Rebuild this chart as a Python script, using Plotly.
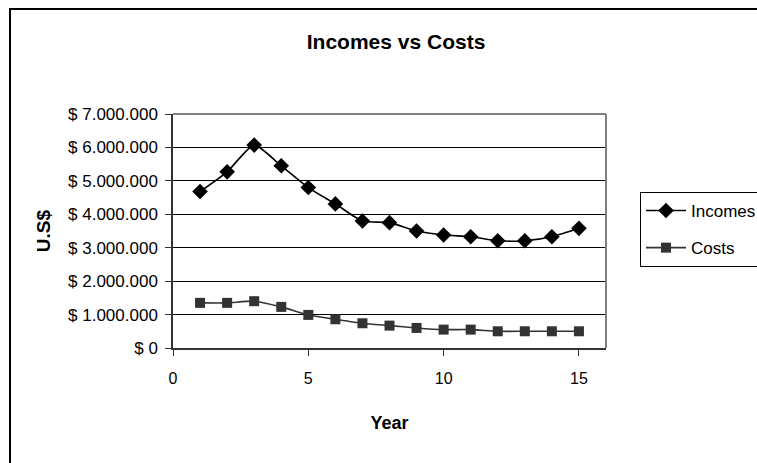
import plotly.graph_objects as go

# Yearly series (U.S$)
years = list(range(1, 16))
incomes = [4680000, 5270000, 6070000, 5450000, 4800000, 4310000, 3800000, 3750000,
           3500000, 3380000, 3330000, 3210000, 3210000, 3330000, 3580000]
costs = [1350000, 1350000, 1400000, 1230000, 990000, 860000, 740000, 670000,
         600000, 550000, 550000, 500000, 500000, 500000, 500000]

y_tick_vals = [0, 1000000, 2000000, 3000000, 4000000, 5000000, 6000000, 7000000]
y_tick_text = ["$ 0", "$ 1.000.000", "$ 2.000.000", "$ 3.000.000", "$ 4.000.000",
               "$ 5.000.000", "$ 6.000.000", "$ 7.000.000"]
x_tick_vals = [0, 5, 10, 15]

FONT = "Liberation Sans, Arial, sans-serif"

fig = go.Figure()
fig.add_trace(go.Scatter(
    x=years, y=incomes, name="Incomes", mode="lines+markers", legendgroup="inc",
    line=dict(color="#000000", width=1.6, shape="spline", smoothing=0.6),
    marker=dict(symbol="diamond", size=12, color="#000000"),
))
fig.add_trace(go.Scatter(
    x=years, y=costs, name="Costs", mode="lines+markers", legendgroup="cost",
    line=dict(color="#333333", width=1.6, shape="spline", smoothing=0.6),
    marker=dict(symbol="square", size=10, color="#333333"),
))

fig.update_layout(
    width=757, height=463,
    margin=dict(l=173, r=151, t=114, b=115),
    paper_bgcolor="white", plot_bgcolor="white",
    font=dict(family=FONT, color="#000000", size=16),
    title=dict(text="<b>Incomes vs Costs</b>", x=390 / 757, xanchor="center",
               y=1 - 42 / 463, yanchor="middle", xref="paper", yref="container",
               font=dict(size=21, family=FONT)),
    showlegend=True,
    legend=dict(
        x=640 / 757, y=1 - 192 / 463, xref="container", yref="container",
        xanchor="left", yanchor="top",
        bordercolor="#000000", borderwidth=1, bgcolor="white",
        font=dict(size=17, family=FONT), itemwidth=40, tracegroupgap=12,
    ),
    xaxis=dict(
        range=[0, 16], tickvals=x_tick_vals, showgrid=False, zeroline=False,
        showline=True, linecolor="#333333", linewidth=1.5,
        ticks="outside", ticklen=6, tickcolor="#333333", ticklabelstandoff=9,
        tickfont=dict(size=16), title=dict(text="<b>Year</b>", font=dict(size=18), standoff=30),
    ),
    yaxis=dict(
        range=[0, 7000000], tickvals=y_tick_vals, ticktext=y_tick_text,
        showgrid=True, gridcolor="#000000", gridwidth=1, zeroline=False,
        showline=True, linecolor="#333333", linewidth=1.5,
        ticks="outside", ticklen=6, tickcolor="#333333", ticklabelstandoff=4,
        tickfont=dict(size=17), title=dict(text="<b>U.S$</b>", font=dict(size=19), standoff=12),
    ),
)

# grey frame on top and right of plot area
fig.add_shape(type="line", xref="paper", yref="paper", x0=0, x1=1, y0=1, y1=1,
              line=dict(color="#808080", width=2))
fig.add_shape(type="line", xref="paper", yref="paper", x0=1, x1=1, y0=0, y1=1,
              line=dict(color="#808080", width=2))

# chart border
fig.add_shape(type="rect", xref="paper", yref="paper",
              x0=(10 - 173) / 433, x1=(800 - 173) / 433,
              y0=(348 - 500) / 234, y1=(348 - 9) / 234,
              line=dict(color="#000000", width=2), layer="below")

fig.write_html("out.html")
